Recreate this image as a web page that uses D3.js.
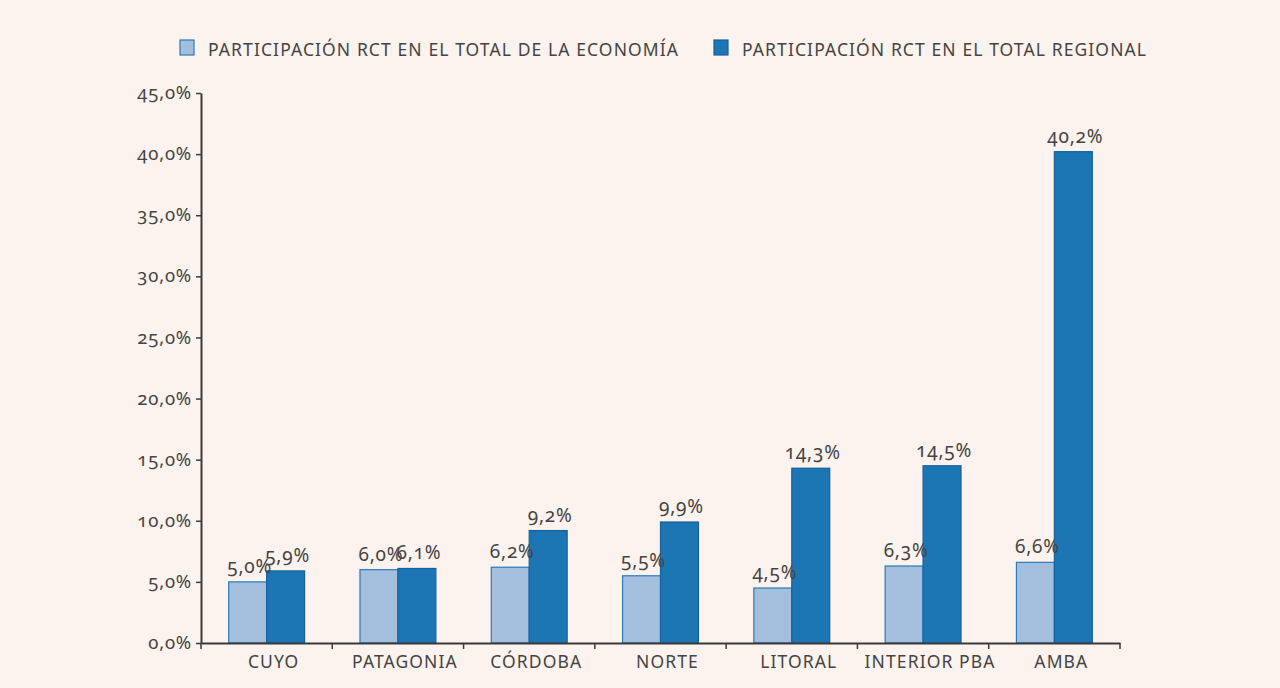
<!DOCTYPE html>
<html>
<head>
<meta charset="utf-8">
<script src="https://cdn.jsdelivr.net/npm/d3@7"></script>
<style>
  html, body { margin: 0; padding: 0; background: #fcf3ee; }
  svg { display: block; }
  svg text { font-family: "Noto Sans", "Open Sans", sans-serif; font-variant-numeric: oldstyle-nums; fill: #444; }
</style>
</head>
<body>
<svg id="chart" width="1280" height="688"></svg>
<script>
const categories = ["CUYO", "PATAGONIA", "CÓRDOBA", "NORTE", "LITORAL", "INTERIOR PBA", "AMBA"];
const seriesNames = ["PARTICIPACIÓN RCT EN EL TOTAL DE LA ECONOMÍA", "PARTICIPACIÓN RCT EN EL TOTAL REGIONAL"];
const totalEconomia = [5.0, 6.0, 6.2, 5.5, 4.5, 6.3, 6.6];
const totalRegional = [5.9, 6.1, 9.2, 9.9, 14.3, 14.5, 40.2];
const yTicks = [0, 5, 10, 15, 20, 25, 30, 35, 40, 45];

const fills = ["#a4bfde", "#1c76b3"];
const strokes = ["#2a7ab8", "#16609c"];

const fmt = v => v.toFixed(1).replace(".", ",") + "%";

const svg = d3.select("#chart");
const margin = { left: 201, right: 1120, top: 93, bottom: 643 };

const x = d3.scaleBand().domain(categories).range([margin.left, margin.right]).paddingInner(0).paddingOuter(0);
const xSub = d3.scaleBand().domain([0, 1]).range([0, x.bandwidth()]).paddingOuter(0.73).paddingInner(0);
const y = d3.scaleLinear().domain([0, 45]).range([margin.bottom, margin.top]);

const series = [totalEconomia, totalRegional];

// bars
series.forEach((vals, si) => {
  svg.append("g").selectAll("rect").data(categories).join("rect")
    .attr("x", d => x(d) + xSub(si))
    .attr("y", (d, i) => y(vals[i]))
    .attr("width", xSub.bandwidth())
    .attr("height", (d, i) => y(0) - y(vals[i]))
    .attr("fill", fills[si])
    .attr("stroke", strokes[si])
    .attr("stroke-width", 1.2);
});

// value labels
series.forEach((vals, si) => {
  svg.append("g").selectAll("text").data(categories).join("text")
    .attr("x", d => x(d) + xSub(si) + xSub.bandwidth() / 2 + 2)
    .attr("y", (d, i) => y(vals[i]) - 9)
    .attr("text-anchor", "middle")
    .style("font-size", "19px")
    .style("letter-spacing", "0.8px")
    .text((d, i) => fmt(vals[i]));
});

// y axis
const yAxis = svg.append("g").attr("transform", `translate(${margin.left},0)`)
  .call(d3.axisLeft(y).tickValues(yTicks).tickFormat(fmt).tickSize(5).tickSizeOuter(0));
yAxis.attr("font-family", null).attr("font-size", null);
yAxis.select(".domain").attr("stroke", "#3a3a3a").attr("stroke-width", 2);
yAxis.selectAll(".tick line").attr("stroke", "#3a3a3a").attr("stroke-width", 1.5);
yAxis.selectAll(".tick text").attr("fill", "#444").style("font-size", "18.5px")
  .style("letter-spacing", "0.8px").attr("x", -9).attr("dy", "0.3em");

// x axis
const xAxis = svg.append("g").attr("transform", `translate(0,${margin.bottom})`)
  .call(d3.axisBottom(x).tickSize(0).tickSizeOuter(0));
xAxis.attr("font-family", null).attr("font-size", null);
xAxis.select(".domain").attr("stroke", "#3a3a3a").attr("stroke-width", 2);
xAxis.selectAll(".tick text").attr("fill", "#444").style("font-size", "17.5px")
  .style("letter-spacing", "1.1px").attr("x", 7).attr("y", 13).attr("dy", "0.71em");
// separators between categories
svg.append("g").selectAll("line").data(categories.concat([null])).join("line")
  .attr("x1", (d, i) => margin.left + i * x.step())
  .attr("x2", (d, i) => margin.left + i * x.step())
  .attr("y1", margin.bottom)
  .attr("y2", margin.bottom + 6)
  .attr("stroke", "#3a3a3a")
  .attr("stroke-width", 1.5);

// legend
const legendX = [180, 714];
const lg = svg.append("g");
seriesNames.forEach((name, i) => {
  lg.append("rect").attr("x", legendX[i]).attr("y", 40).attr("width", 14).attr("height", 15)
    .attr("fill", fills[i]).attr("stroke", strokes[i]).attr("stroke-width", 1.2);
  lg.append("text").attr("x", legendX[i] + 28).attr("y", 56)
    .style("font-size", "17.5px").style("letter-spacing", "1.1px").text(name);
});
</script>
</body>
</html>
